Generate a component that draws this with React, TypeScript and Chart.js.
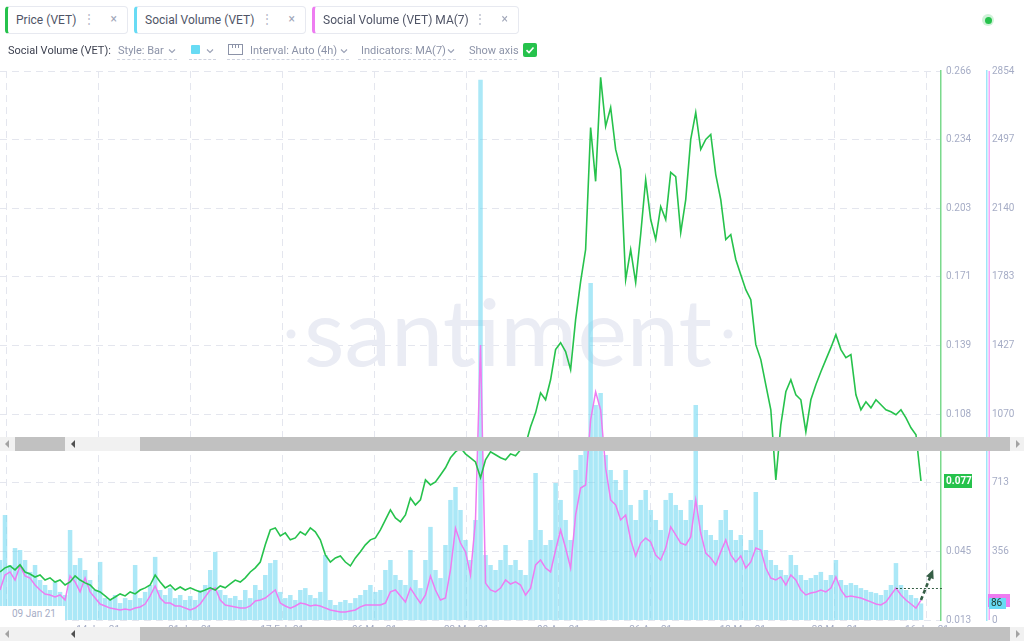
import React, { useEffect, useRef } from "react";
import { Chart, registerables } from "chart.js";

Chart.register(...registerables);

// ---------------- data ----------------
const priceVET = [
  0.0351, 0.0370, 0.0379, 0.0361, 0.0384, 0.0351, 0.0342, 0.0328, 0.0337, 0.0314,
  0.0324, 0.0305, 0.0314, 0.0291, 0.0305, 0.0333, 0.0314, 0.0301, 0.0291, 0.0268,
  0.0259, 0.0241, 0.0222, 0.0236, 0.0250, 0.0241, 0.0259, 0.0250, 0.0268, 0.0278,
  0.0291, 0.0337, 0.0305, 0.0278, 0.0291, 0.0268, 0.0282, 0.0268, 0.0278, 0.0268,
  0.0259, 0.0268, 0.0278, 0.0268, 0.0287, 0.0278, 0.0296, 0.0314, 0.0305, 0.0324,
  0.0351, 0.0370, 0.0397, 0.0476, 0.0545, 0.0554, 0.0517, 0.0531, 0.0499, 0.0508,
  0.0536, 0.0522, 0.0554, 0.0536, 0.0499, 0.0430, 0.0397, 0.0416, 0.0425, 0.0397,
  0.0379, 0.0416, 0.0444, 0.0476, 0.0499, 0.0508, 0.0545, 0.0591, 0.0637, 0.0600,
  0.0582, 0.0614, 0.0692, 0.0660, 0.0683, 0.0775, 0.0752, 0.0766, 0.0798, 0.0831,
  0.0877, 0.0904, 0.0923, 0.0895, 0.0877, 0.0858, 0.0785, 0.0868, 0.0904, 0.0891,
  0.0877, 0.0868, 0.0895, 0.0886, 0.0914, 0.0937, 0.1020, 0.1084, 0.1176, 0.1144,
  0.1236, 0.1375, 0.1407, 0.1366, 0.1283, 0.1513, 0.1688, 0.1836, 0.2398, 0.2150,
  0.2629, 0.2403, 0.2490, 0.2297, 0.2205, 0.1697, 0.1836, 0.1684, 0.1905, 0.2158,
  0.1974, 0.1882, 0.2034, 0.1974, 0.2191, 0.2172, 0.1914, 0.2066, 0.2343, 0.2467,
  0.2297, 0.2343, 0.2366, 0.2181, 0.2066, 0.1882, 0.1905, 0.1790, 0.1720, 0.1651,
  0.1605, 0.1398, 0.1329, 0.1213, 0.1098, 0.0775, 0.1029, 0.1181, 0.1236, 0.1167,
  0.1144, 0.0997, 0.1144, 0.1213, 0.1273, 0.1329, 0.1384, 0.1444, 0.1375, 0.1338,
  0.1352, 0.1167, 0.1098, 0.1135, 0.1107, 0.1144, 0.1121, 0.1098, 0.1089, 0.1075,
  0.1098, 0.1061, 0.1015, 0.0983, 0.0770,
];

const socialVolume = [
  312, 546, 286, 374, 364, 312, 250, 286, 208, 182,
  156, 198, 146, 130, 468, 286, 322, 260, 208, 156,
  302, 114, 104, 130, 88, 114, 104, 286, 114, 146,
  182, 328, 156, 130, 166, 114, 130, 104, 125, 104,
  156, 182, 260, 354, 156, 130, 114, 125, 104, 156,
  114, 182, 156, 234, 296, 312, 146, 114, 130, 104,
  156, 166, 130, 114, 146, 338, 104, 78, 94, 104,
  88, 114, 130, 156, 182, 146, 156, 260, 312, 234,
  208, 182, 364, 208, 166, 312, 484, 260, 218, 390,
  624, 692, 572, 416, 312, 520, 2808, 338, 286, 260,
  312, 390, 286, 312, 260, 234, 416, 764, 468, 390,
  416, 712, 624, 520, 416, 780, 858, 936, 1752, 1118,
  1180, 858, 780, 728, 676, 780, 598, 520, 624, 676,
  572, 520, 468, 624, 660, 598, 572, 520, 624, 1118,
  598, 468, 442, 416, 520, 572, 468, 416, 442, 364,
  416, 666, 468, 364, 312, 286, 260, 234, 338, 286,
  234, 208, 218, 234, 250, 208, 234, 312, 208, 182,
  192, 182, 166, 156, 146, 140, 130, 156, 182, 296,
  182, 156, 130, 114, 86,
];

const socialVolumeMA7 = [
  156, 234, 250, 208, 281, 229, 218, 182, 156, 135,
  130, 120, 130, 104, 229, 198, 146, 218, 146, 114,
  83, 73, 62, 57, 52, 57, 52, 62, 68, 83,
  125, 177, 114, 88, 88, 73, 73, 62, 52, 62,
  83, 120, 156, 166, 104, 78, 73, 68, 62, 62,
  73, 99, 104, 114, 135, 156, 88, 73, 62, 73,
  88, 83, 73, 78, 73, 62, 52, 47, 42, 42,
  47, 52, 68, 78, 78, 78, 78, 88, 146, 156,
  125, 94, 166, 125, 88, 130, 229, 156, 104, 114,
  260, 478, 400, 354, 234, 520, 1430, 192, 156, 146,
  166, 208, 187, 198, 182, 130, 166, 286, 312, 270,
  250, 364, 468, 374, 270, 546, 686, 702, 1040, 1186,
  1092, 790, 624, 598, 520, 546, 416, 333, 400, 426,
  406, 338, 312, 374, 484, 442, 400, 390, 432, 624,
  452, 348, 322, 286, 354, 416, 338, 302, 333, 270,
  302, 374, 364, 270, 218, 208, 224, 182, 234, 208,
  156, 130, 140, 146, 156, 146, 166, 224, 156, 120,
  125, 120, 114, 104, 94, 83, 78, 94, 130, 166,
  130, 104, 83, 62, 104,
];

const xTickPos = [1.2, 19.6, 38, 56.4, 74.8, 93.2, 111.6, 130, 148.4, 166.8, 185.2];
const xTickLabels = [
  "28 Dec 20", "14 Jan 21", "31 Jan 21", "17 Feb 21", "06 Mar 21", "23 Mar 21",
  "09 Apr 21", "26 Apr 21", "13 May 21", "30 May 21", "16 Jun 21",
];
const priceMin = 0.013;
const priceMax = 0.2658;
const volumeMax = 2854;
const tickCount = 9;

// ---------------- styles ----------------
const GREEN = "#26c24c";
const CYAN = "#68dbf4";
const PINK = "#ee7cf1";
const TICK = "#a6adc6";
const GRID = "#e4e6ee";
const FONT = "Roboto, 'Open Sans', sans-serif";

const Chevron = ({ x, y }: { x: number; y: number }) => (
  <svg style={{ position: "absolute", left: x, top: y }} width="8" height="6" viewBox="0 0 8 6">
    <polyline points="1,1.5 4,4.5 7,1.5" fill="none" stroke="#9aa1b6" strokeWidth="1.1" />
  </svg>
);

const Underline = ({ x, w }: { x: number; w: number }) => (
  <div
    style={{
      position: "absolute",
      left: x,
      top: 59,
      width: w,
      height: 0,
      borderTop: "1px dashed #cfd3df",
    }}
  />
);

const LegendChip = ({
  left,
  width,
  color,
  text,
}: {
  left: number;
  width: number;
  color: string;
  text: string;
}) => (
  <div
    style={{
      position: "absolute",
      left,
      top: 6,
      width,
      height: 28,
      boxSizing: "border-box",
      border: "1px solid #e7e9f0",
      borderLeft: `3px solid ${color}`,
      borderRadius: 4,
      background: "#fff",
    }}
  >
    <span
      style={{
        position: "absolute",
        left: 8,
        top: 6,
        fontSize: 12,
        lineHeight: "14px",
        color: "#4f5466",
        whiteSpace: "nowrap",
      }}
    >
      {text}
    </span>
    <span style={{ position: "absolute", right: 32, top: 5, fontSize: 12, color: "#b4b9c8" }}>⋮</span>
    <span style={{ position: "absolute", right: 10, top: 5, fontSize: 12, color: "#a0a6b8" }}>×</span>
  </div>
);

const Arrow = ({ x, y, dir, dark }: { x: number; y: number; dir: "l" | "r"; dark?: boolean }) => (
  <svg style={{ position: "absolute", left: x, top: y }} width="6" height="8" viewBox="0 0 6 8">
    <polygon points={dir === "l" ? "5,0 5,8 1,4" : "1,0 1,8 5,4"} fill={dark ? "#505050" : "#a3a3a3"} />
  </svg>
);

const ScrollBand = ({ top, split }: { top: number; split: boolean }) => (
  <div style={{ position: "absolute", left: 0, top, width: 1024, height: 14, background: "#f1f1f1" }}>
    {split && <div style={{ position: "absolute", left: 15, top: 0, width: 50, height: 14, background: "#c1c1c1" }} />}
    <Arrow x={4} y={3} dir="l" />
    <Arrow x={70} y={3} dir="l" dark />
    <div style={{ position: "absolute", left: 140, top: 0, width: 870, height: 14, background: "#c1c1c1" }} />
    <Arrow x={1015} y={3} dir="r" />
  </div>
);

export default function App() {
  const canvasRef = useRef<HTMLCanvasElement>(null);

  useEffect(() => {
    const canvas = canvasRef.current;
    if (!canvas) return;
    const pts = (arr: number[]) => arr.map((v, i) => ({ x: i, y: v }));
    const n = priceVET.length - 1;

    const overlayPlugin = {
      id: "overlay",
      beforeDatasetsDraw(chart: any) {
        const ctx = chart.ctx;
        ctx.save();
        ctx.fillStyle = "#eaecf4";
        ctx.textAlign = "center";
        ctx.textBaseline = "alphabetic";
        ctx.font = "400 100px Lato";
        const w0 = ctx.measureText("santiment").width;
        const target = 408;
        const size = (100 * target) / w0;
        ctx.font = `400 ${size}px Lato`;
        const cx = 508;
        ctx.fillText("santiment", cx, 366);
        ctx.beginPath();
        ctx.arc(cx - target / 2 - 13, 334, 4.5, 0, Math.PI * 2);
        ctx.fill();
        ctx.beginPath();
        ctx.arc(cx + target / 2 + 16, 334, 4.5, 0, Math.PI * 2);
        ctx.fill();
        ctx.restore();
      },
      afterDraw(chart: any) {
        const { ctx } = chart;
        const xs = chart.scales.x;
        const yp = chart.scales.y;
        const yv = chart.scales.y1;
        ctx.save();
        // pink companion line of the volume axis
        ctx.strokeStyle = "#f6a6f7";
        ctx.lineWidth = 1.5;
        ctx.beginPath();
        ctx.moveTo(yv.left + 2.2, yv.top);
        ctx.lineTo(yv.left + 2.2, yv.bottom);
        ctx.stroke();

        // dotted level line
        const hIdx = 179;
        const hy = Math.round(yv.getPixelForValue(socialVolumeMA7[hIdx])) + 0.5;
        ctx.strokeStyle = "#355e45";
        ctx.lineWidth = 1;
        ctx.setLineDash([2, 2]);
        ctx.beginPath();
        ctx.moveTo(xs.getPixelForValue(hIdx), hy);
        ctx.lineTo(yp.left + 2, hy);
        ctx.stroke();

        // dashed trend arrow
        const ax = xs.getPixelForValue(n);
        const ay = yv.getPixelForValue(socialVolumeMA7[n]);
        const ex = ax + 10;
        const ey = ay - 25;
        ctx.setLineDash([4, 3]);
        ctx.lineWidth = 2.6;
        ctx.beginPath();
        ctx.moveTo(ax, ay);
        ctx.lineTo(ex, ey);
        ctx.stroke();
        ctx.setLineDash([]);
        const ang = Math.atan2(ey - ay, ex - ax);
        ctx.fillStyle = "#355e45";
        ctx.beginPath();
        ctx.moveTo(ex + 6 * Math.cos(ang), ey + 6 * Math.sin(ang));
        ctx.lineTo(ex + 5 * Math.cos(ang + 2.2), ey + 5 * Math.sin(ang + 2.2));
        ctx.lineTo(ex + 5 * Math.cos(ang - 2.2), ey + 5 * Math.sin(ang - 2.2));
        ctx.closePath();
        ctx.fill();

        // price badge
        const py = yp.getPixelForValue(priceVET[n]);
        ctx.fillStyle = GREEN;
        ctx.fillRect(yp.left + 3, Math.round(py) - 7, 28, 14);
        ctx.fillStyle = "#fff";
        ctx.font = `bold 10px ${FONT}`;
        ctx.textAlign = "left";
        ctx.textBaseline = "middle";
        ctx.fillText(priceVET[n].toFixed(3), yp.left + 5, Math.round(py) + 0.5);

        // MA badge (pink) and volume badge (cyan)
        const my = yv.getPixelForValue(socialVolumeMA7[n]);
        ctx.fillStyle = PINK;
        ctx.fillRect(yv.left + 1, Math.round(my) - 6, 22, 13);
        const vy = yv.getPixelForValue(socialVolume[n]);
        ctx.fillStyle = CYAN;
        ctx.fillRect(yv.left + 2, Math.round(vy) - 5, 17, 11);
        ctx.fillStyle = "#1f3a2a";
        ctx.font = `10px ${FONT}`;
        ctx.fillText(String(socialVolume[n]), yv.left + 4, Math.round(vy) + 0.5);
        ctx.restore();
      },
    };

    const chart = new Chart(canvas, {
      type: "bar",
      data: {
        datasets: [
          {
            type: "line",
            label: "Price (VET)",
            data: pts(priceVET),
            yAxisID: "y",
            borderColor: GREEN,
            borderWidth: 1.6,
            pointRadius: 0,
            tension: 0,
            order: 0,
          } as any,
          {
            type: "line",
            label: "Social Volume (VET) MA(7)",
            data: pts(socialVolumeMA7),
            yAxisID: "y1",
            borderColor: PINK,
            borderWidth: 1.5,
            pointRadius: 0,
            tension: 0,
            order: 1,
          } as any,
          {
            type: "bar",
            label: "Social Volume (VET)",
            data: pts(socialVolume),
            yAxisID: "y1",
            backgroundColor: "rgba(110,215,242,0.58)",
            barPercentage: 1,
            categoryPercentage: 0.9,
            order: 2,
          } as any,
        ],
      },
      options: {
        responsive: false,
        animation: false,
        layout: { padding: { top: 71, left: 0, right: 0, bottom: 0 } },
        plugins: { legend: { display: false }, tooltip: { enabled: false } },
        scales: {
          x: {
            type: "linear",
            min: 0,
            max: 188,
            offset: false,
            grid: { color: GRID, drawTicks: false, offset: false },
            border: { display: false, dash: [7, 5] },
            ticks: {
              color: TICK,
              font: { size: 10, family: FONT },
              padding: 4,
              autoSkip: false,
              maxRotation: 0,
              callback: (_v: any, i: number) => xTickLabels[i] ?? "",
            },
            afterBuildTicks: (s: any) => {
              s.ticks = xTickPos.map((v) => ({ value: v }));
            },
            afterFit: (s: any) => {
              s.height = 21;
              s.paddingLeft = 0;
              s.paddingRight = 0;
            },
          },
          y: {
            type: "linear",
            position: "right",
            min: priceMin,
            max: priceMax,
            grid: { color: GRID, drawTicks: false },
            border: { display: true, color: "#7ad98c", width: 1.5, dash: [7, 5] },
            ticks: {
              color: TICK,
              font: { size: 10, family: FONT },
              padding: 5,
              callback: (v: any) => Number(v).toFixed(3),
            },
            afterBuildTicks: (s: any) => {
              const step = (priceMax - priceMin) / (tickCount - 1);
              s.ticks = Array.from({ length: tickCount }, (_, k) => ({ value: priceMin + k * step }));
            },
            afterFit: (s: any) => {
              s.width = 46;
              s.paddingTop = 0;
              s.paddingBottom = 0;
            },
          },
          y1: {
            type: "linear",
            position: "right",
            min: 0,
            max: volumeMax,
            grid: { display: false, drawTicks: false },
            border: { display: true, color: "#9fe6f8", width: 1.5 },
            ticks: {
              color: TICK,
              font: { size: 10, family: FONT },
              padding: 5,
              callback: (v: any) => String(Math.floor(Number(v) + 1e-9)),
            },
            afterBuildTicks: (s: any) => {
              const step = volumeMax / (tickCount - 1);
              s.ticks = Array.from({ length: tickCount }, (_, k) => ({ value: k * step }));
            },
            afterFit: (s: any) => {
              s.width = 37;
              s.paddingTop = 0;
              s.paddingBottom = 0;
            },
          },
        },
      } as any,
      plugins: [overlayPlugin],
    });
    return () => chart.destroy();
  }, []);

  const tb: React.CSSProperties = {
    position: "absolute",
    top: 44,
    fontSize: 11,
    lineHeight: "13px",
    whiteSpace: "nowrap",
    color: "#8c93a8",
  };

  return (
    <div
      style={{
        position: "fixed",
        left: 0,
        top: 0,
        width: 1024,
        height: 641,
        background: "#fff",
        overflow: "hidden",
        fontFamily: FONT,
      }}
    >
      <canvas
        ref={canvasRef}
        width={1024}
        height={641}
        style={{ position: "absolute", left: 0, top: 0, width: 1024, height: 641 }}
      />

      {/* legend chips */}
      <LegendChip left={5} width={123} color={GREEN} text="Price (VET)" />
      <LegendChip left={134} width={172} color={CYAN} text="Social Volume (VET)" />
      <LegendChip left={312} width={207} color={PINK} text="Social Volume (VET) MA(7)" />

      {/* status dot */}
      <div style={{ position: "absolute", left: 982, top: 14, width: 12, height: 12, borderRadius: 6, background: "rgba(38,194,76,0.22)" }} />
      <div style={{ position: "absolute", left: 984.5, top: 16.5, width: 7, height: 7, borderRadius: 4, background: GREEN }} />

      {/* toolbar */}
      <span style={{ ...tb, left: 8, color: "#3d4150" }}>Social Volume (VET):</span>
      <span style={{ ...tb, left: 118 }}>Style: Bar</span>
      <Chevron x={168} y={48} />
      <Underline x={117} w={60} />
      <div style={{ position: "absolute", left: 191, top: 45, width: 9, height: 9, borderRadius: 1, background: CYAN }} />
      <Chevron x={206} y={48} />
      <Underline x={189} w={27} />
      <svg style={{ position: "absolute", left: 228, top: 44 }} width="15" height="11" viewBox="0 0 15 11">
        <rect x="0.5" y="0.5" width="14" height="10" fill="none" stroke="#8c93a8" />
        <line x1="4.5" y1="1" x2="4.5" y2="4" stroke="#8c93a8" />
        <line x1="7.5" y1="1" x2="7.5" y2="4" stroke="#8c93a8" />
        <line x1="10.5" y1="1" x2="10.5" y2="4" stroke="#8c93a8" />
      </svg>
      <span style={{ ...tb, left: 250 }}>Interval: Auto (4h)</span>
      <Chevron x={340} y={48} />
      <Underline x={227} w={122} />
      <span style={{ ...tb, left: 361 }}>Indicators: MA(7)</span>
      <Chevron x={447} y={48} />
      <Underline x={358} w={98} />
      <span style={{ ...tb, left: 469 }}>Show axis</span>
      <Underline x={469} w={48} />
      <div style={{ position: "absolute", left: 523, top: 43, width: 14, height: 14, borderRadius: 2, background: GREEN }} />
      <svg style={{ position: "absolute", left: 523, top: 43 }} width="14" height="14" viewBox="0 0 14 14">
        <polyline points="3.5,7.2 6,9.6 10.5,4.5" fill="none" stroke="#fff" strokeWidth="1.6" />
      </svg>

      {/* left stitched piece bottom */}
      <div style={{ position: "absolute", left: 0, top: 606, width: 65, height: 21, background: "#fff" }}>
        <span style={{ position: "absolute", left: 12, top: 2, fontSize: 10, color: TICK, whiteSpace: "nowrap" }}>09 Jan 21</span>
      </div>

      {/* scrollbars */}
      <ScrollBand top={437} split={true} />
      <ScrollBand top={627} split={false} />
    </div>
  );
}
